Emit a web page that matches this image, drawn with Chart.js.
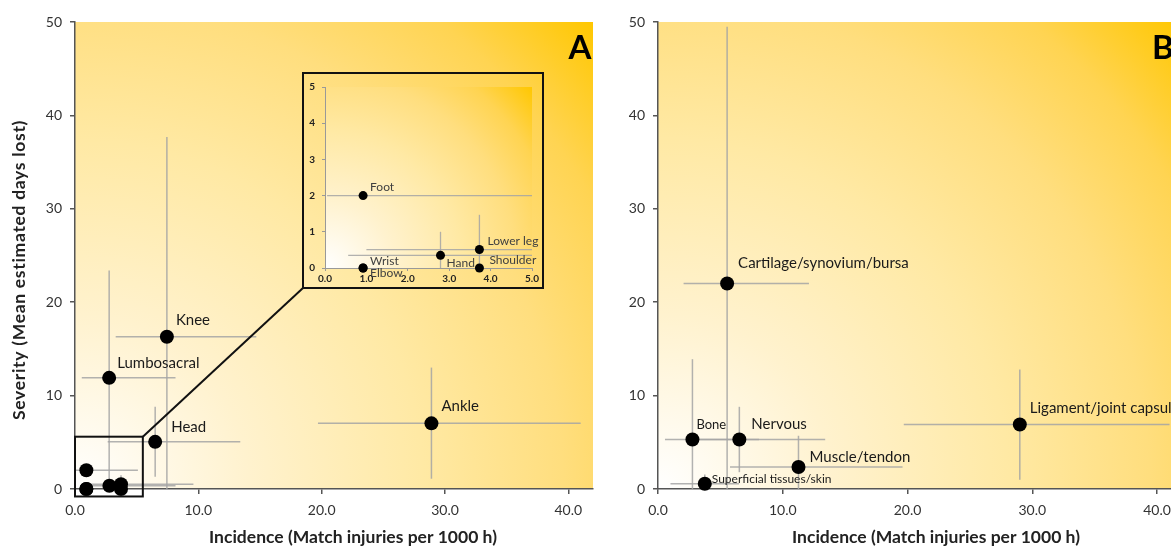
<!DOCTYPE html>
<html><head><meta charset="utf-8">
<script src="https://cdn.jsdelivr.net/npm/chart.js@4.4.0/dist/chart.umd.min.js"></script>
<style>
html,body{margin:0;padding:0;background:#fff;overflow:hidden;width:1171px;height:551px;position:relative}
#ca{position:absolute;left:0;top:0}
#cb{position:absolute;left:600px;top:0}
#insetBox{position:absolute;left:302px;top:72px;width:238px;height:213px;border:2px solid #111}
#ci{position:absolute;left:0;top:0}
</style></head>
<body>
<canvas id="ca" width="600" height="551"></canvas>
<canvas id="cb" width="600" height="551"></canvas>
<div id="insetBox"><canvas id="ci" width="238" height="213"></canvas></div>
<script>
// ---------------- DATA ----------------
// Panel A – injury location
const regionsA   = ['Knee','Lumbosacral','Head','Ankle','Foot','Wrist','Elbow','Hand','Lower leg','Shoulder'];
const incidenceA = [7.45, 2.77, 6.5, 28.9, 0.92, 0.92, 0.92, 2.79, 3.73, 3.73];
const severityA  = [16.3, 11.9, 5.05, 7.03, 2.0, 0, 0, 0.35, 0.51, 0];
const incLowA    = [3.3, 0.55, 2.65, 19.7, 0.05, null, null, 0.56, 1.0, null];
const incHighA   = [14.7, 8.15, 13.4, 41.0, 5.1, null, null, 8.15, 9.6, null];
const sevLowA    = [0, 0, 1.3, 1.1, null, null, null, 0, 0, null];
const sevHighA   = [37.7, 23.4, 8.8, 13.0, null, null, null, 1.0, 1.47, null];

// Panel B – tissue type
const tissuesB   = ['Cartilage/synovium/bursa','Bone','Nervous','Muscle/tendon','Superficial tissues/skin','Ligament/joint capsule'];
const incidenceB = [5.54, 2.76, 6.52, 11.26, 3.75, 29.0];
const severityB  = [22.0, 5.3, 5.3, 2.36, 0.57, 6.9];
const incLowB    = [2.05, 0.56, 2.6, 5.77, 1.0, 19.7];
const incHighB   = [12.1, 8.1, 13.4, 19.6, 6.5, 41.0];
const sevLowB    = [0, 0, 1.8, 0, 0, 1.0];
const sevHighB   = [49.5, 13.9, 8.8, 5.7, 1.55, 12.8];

// Tick values
const xTicksMain = [0, 10, 20, 30, 40];
const yTicksMain = [0, 10, 20, 30, 40, 50];
const xTicksInset = [0, 1, 2, 3, 4, 5];
const yTicksInset = [0, 1, 2, 3, 4, 5];
const xRangeMain = [0, 42];
const yRangeMain = [0, 50];
const insetRange = [0, 5];
// zoomed region outline (data units) in panel A
const zoomRect = {x0: 0, x1: 5.5, y0: -0.8, y1: 5.6};

// ---------------- LAYOUT / STYLE ----------------
const FONT = 'Lato, "Open Sans", sans-serif';
const labelStyleA = {
  'Knee':[9,-17,15], 'Lumbosacral':[8,-15,15], 'Head':[16,-15,15], 'Ankle':[10,-17,15]
};
const labelStyleInset = {
  'Foot':[7,-8,12], 'Wrist':[7,-7,12], 'Elbow':[7,5,12], 'Hand':[6,8,12], 'Lower leg':[8,-8,12], 'Shoulder':[10,-8,12]
};
const labelStyleB = {
  'Cartilage/synovium/bursa':[11,-20,15], 'Bone':[4,-15,13], 'Nervous':[12,-15,15],
  'Muscle/tendon':[11,-10,15], 'Superficial tissues/skin':[7,-5,12], 'Ligament/joint capsule':[10,-16,15]
};

Chart.defaults.font.family = FONT;

function paintGradient(chart) {
  const {ctx, chartArea: a} = chart;
  const r = Math.hypot(a.right - a.left, a.bottom - a.top);
  const g = ctx.createRadialGradient(a.left, a.bottom, 0, a.left, a.bottom, r);
  g.addColorStop(0, '#FFFFFF');
  g.addColorStop(0.25, '#FFF2CE');
  g.addColorStop(0.5, '#FFE9A4');
  g.addColorStop(0.7, '#FFDE7E');
  g.addColorStop(0.85, '#FFD452');
  g.addColorStop(1, '#FFC700');
  ctx.save();
  ctx.fillStyle = g;
  ctx.fillRect(a.left, a.top, a.right - a.left, a.bottom - a.top);
  ctx.restore();
}

function makePlugin(opt) {
  return {
    id: 'panel_' + opt.id,
    beforeDraw(chart) { paintGradient(chart); },
    beforeDatasetsDraw(chart) {
      const {ctx, chartArea: a, scales: {x, y}} = chart;
      ctx.save();
      if (opt.clip) { ctx.beginPath(); ctx.rect(a.left, a.top, a.right - a.left, a.bottom - a.top); ctx.clip(); }
      ctx.strokeStyle = 'rgba(165,165,165,0.85)';
      ctx.lineWidth = opt.barWidth || 1.5;
      opt.idx.forEach(i => {
        const px = x.getPixelForValue(opt.inc[i]);
        const py = y.getPixelForValue(opt.sev[i]);
        if (opt.incLo[i] != null) {
          ctx.beginPath();
          ctx.moveTo(x.getPixelForValue(opt.incLo[i]), py);
          ctx.lineTo(x.getPixelForValue(opt.incHi[i]), py);
          ctx.stroke();
        }
        if (opt.sevLo[i] != null) {
          ctx.beginPath();
          ctx.moveTo(px, y.getPixelForValue(opt.sevLo[i]));
          ctx.lineTo(px, y.getPixelForValue(opt.sevHi[i]));
          ctx.stroke();
        }
      });
      ctx.restore();
    },
    afterDatasetsDraw(chart) {
      const {ctx, scales: {x, y}} = chart;
      ctx.save();
      ctx.textAlign = 'left';
      ctx.textBaseline = 'middle';
      ctx.fillStyle = opt.labelColor;
      opt.idx.forEach(i => {
        const st = opt.labels[opt.names[i]];
        if (!st) return;
        ctx.font = st[2] + 'px ' + FONT;
        ctx.fillText(opt.names[i], x.getPixelForValue(opt.inc[i]) + st[0], y.getPixelForValue(opt.sev[i]) + st[1]);
      });
      ctx.restore();
    },
    afterDraw(chart) { if (opt.after) opt.after(chart); }
  };
}

function drawTitles(chart) {
  const {ctx, chartArea: a} = chart;
  ctx.save();
  ctx.fillStyle = '#222';
  ctx.font = 'bold 17.5px ' + FONT;
  ctx.textAlign = 'center';
  ctx.textBaseline = 'middle';
  ctx.fillText('Incidence (Match injuries per 1000 h)', a.left + 278, 537);
  ctx.restore();
}

function mainScales(yWidth) {
  const tickFont = {family: FONT, size: 14};
  return {
    x: {
      type: 'linear', min: xRangeMain[0], max: xRangeMain[1],
      afterFit(s) { s.height = 62; },
      afterBuildTicks(s) { s.ticks = xTicksMain.map(v => ({value: v})); },
      ticks: {callback: v => v.toFixed(1), font: tickFont, color: '#333', padding: 8, maxRotation: 0, autoSkip: false},
      grid: {drawOnChartArea: false, drawTicks: true, tickLength: 5, color: '#555', lineWidth: 1.5},
      border: {display: true, color: '#555', width: 1.5}
    },
    y: {
      type: 'linear', min: yRangeMain[0], max: yRangeMain[1],
      afterFit(s) { s.width = yWidth; },
      afterBuildTicks(s) { s.ticks = yTicksMain.map(v => ({value: v})); },
      ticks: {font: tickFont, color: '#333', padding: 8, autoSkip: false},
      grid: {drawOnChartArea: false, drawTicks: true, tickLength: 5, color: '#555', lineWidth: 1.5},
      border: {display: true, color: '#555', width: 1.5}
    }
  };
}

const allA = regionsA.map((_, i) => i);

// ---------- Panel A ----------
new Chart(document.getElementById('ca'), {
  type: 'scatter',
  data: {datasets: [{
    data: regionsA.map((n, i) => ({x: incidenceA[i], y: severityA[i]})),
    backgroundColor: '#000', borderWidth: 0, pointRadius: 7, pointHoverRadius: 7, clip: false
  }]},
  options: {
    responsive: false, animation: false, devicePixelRatio: 1,
    layout: {padding: {left: 0, right: 2, top: 22, bottom: 0}},
    plugins: {legend: {display: false}, tooltip: {enabled: false}},
    scales: mainScales(75)
  },
  plugins: [makePlugin({
    id: 'A', idx: allA, names: regionsA, inc: incidenceA, sev: severityA,
    incLo: incLowA, incHi: incHighA, sevLo: sevLowA, sevHi: sevHighA,
    labels: labelStyleA, labelColor: '#1a1a1a',
    after(chart) {
      const {ctx, scales: {x, y}} = chart;
      ctx.save();
      // zoom outline
      const l = x.getPixelForValue(zoomRect.x0), r = x.getPixelForValue(zoomRect.x1);
      const t = y.getPixelForValue(zoomRect.y1), b = y.getPixelForValue(zoomRect.y0);
      ctx.strokeStyle = '#111';
      ctx.lineWidth = 2;
      ctx.strokeRect(l, t, r - l, b - t);
      // connector to inset box (bottom-left corner of inset frame)
      ctx.beginPath();
      ctx.moveTo(r, t);
      ctx.lineTo(303, 288);
      ctx.stroke();
      // panel letter
      ctx.fillStyle = '#000';
      ctx.font = 'bold 33px ' + FONT;
      ctx.textAlign = 'center';
      ctx.textBaseline = 'middle';
      ctx.fillText('A', 580, 48);
      // y title
      ctx.font = 'bold 17.5px ' + FONT;
      ctx.fillStyle = '#222';
      ctx.letterSpacing = '0.7px';
      ctx.translate(19, 270);
      ctx.rotate(-Math.PI / 2);
      ctx.fillText('Severity (Mean estimated days lost)', 0, 0);
      ctx.restore();
      drawTitles(chart);
    }
  })]
});

// ---------- Inset (zoom of panel A) ----------
const insetIdx = allA.filter(i => incidenceA[i] <= insetRange[1] && severityA[i] <= insetRange[1]);
const insetTickFont = {family: FONT, size: 10, weight: 'bold'};
new Chart(document.getElementById('ci'), {
  type: 'scatter',
  data: {datasets: [{
    data: insetIdx.map(i => ({x: incidenceA[i], y: severityA[i]})),
    backgroundColor: '#000', borderWidth: 0, pointRadius: 4.5, pointHoverRadius: 4.5, clip: false
  }]},
  options: {
    responsive: false, animation: false, devicePixelRatio: 1,
    layout: {padding: {left: 0, right: 10, top: 7, bottom: 0}},
    plugins: {legend: {display: false}, tooltip: {enabled: false}},
    scales: {
      x: {
        type: 'linear', min: insetRange[0], max: insetRange[1],
        afterFit(s) { s.height = 19; },
        afterBuildTicks(s) { s.ticks = xTicksInset.map(v => ({value: v})); },
        ticks: {callback: v => v.toFixed(1), font: insetTickFont, color: '#222', padding: 2, maxRotation: 0, autoSkip: false},
        grid: {drawOnChartArea: false, drawTicks: true, tickLength: 3, color: '#999', lineWidth: 1},
        border: {display: true, color: '#999', width: 1}
      },
      y: {
        type: 'linear', min: insetRange[0], max: insetRange[1],
        afterFit(s) { s.width = 21; },
        afterBuildTicks(s) { s.ticks = yTicksInset.map(v => ({value: v})); },
        ticks: {font: insetTickFont, color: '#222', padding: 7, autoSkip: false},
        grid: {drawOnChartArea: false, drawTicks: true, tickLength: 3, color: '#999', lineWidth: 1},
        border: {display: true, color: '#999', width: 1}
      }
    }
  },
  plugins: [makePlugin({
    id: 'I', idx: insetIdx, names: regionsA, inc: incidenceA, sev: severityA,
    incLo: incLowA, incHi: incHighA, sevLo: sevLowA, sevHi: sevHighA,
    labels: labelStyleInset, labelColor: '#404040', clip: true, barWidth: 1.3
  })]
});

// ---------- Panel B ----------
const allB = tissuesB.map((_, i) => i);
new Chart(document.getElementById('cb'), {
  type: 'scatter',
  data: {datasets: [{
    data: tissuesB.map((n, i) => ({x: incidenceB[i], y: severityB[i]})),
    backgroundColor: '#000', borderWidth: 0, pointRadius: 7, pointHoverRadius: 7, clip: false
  }]},
  options: {
    responsive: false, animation: false, devicePixelRatio: 1,
    layout: {padding: {left: 0, right: 18, top: 22, bottom: 0}},
    plugins: {legend: {display: false}, tooltip: {enabled: false}},
    scales: mainScales(58)
  },
  plugins: [makePlugin({
    id: 'B', idx: allB, names: tissuesB, inc: incidenceB, sev: severityB,
    incLo: incLowB, incHi: incHighB, sevLo: sevLowB, sevHi: sevHighB,
    labels: labelStyleB, labelColor: '#1a1a1a',
    after(chart) {
      const {ctx} = chart;
      ctx.save();
      ctx.fillStyle = '#000';
      ctx.font = 'bold 33px ' + FONT;
      ctx.textAlign = 'left';
      ctx.textBaseline = 'middle';
      ctx.fillText('B', 552, 48);
      ctx.restore();
      drawTitles(chart);
    }
  })]
});
</script>
</body></html>
